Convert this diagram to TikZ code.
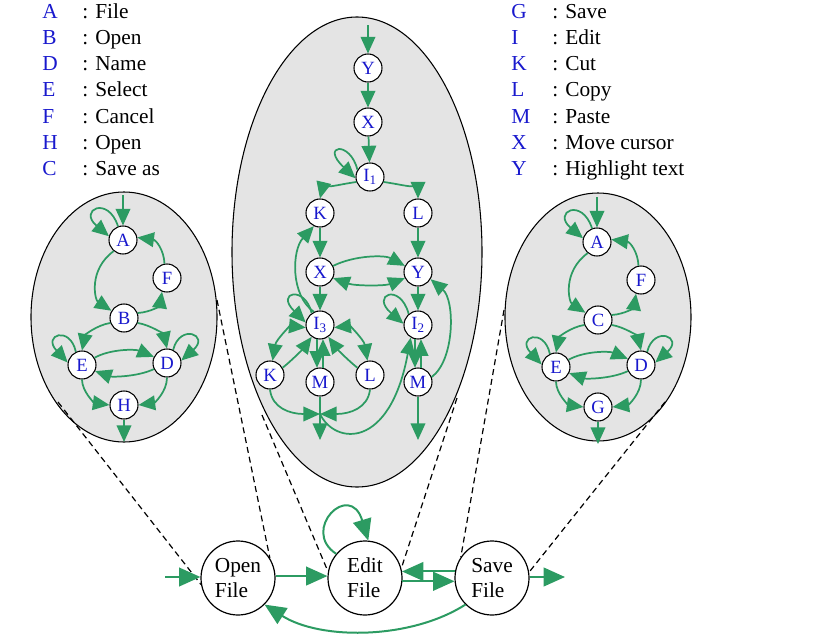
\documentclass[tikz,border=0pt]{standalone}
\usepackage{fontspec}
\setmainfont{Liberation Serif}
\usetikzlibrary{arrows.meta}
\definecolor{grn}{RGB}{44,155,98}
\definecolor{lbl}{RGB}{25,25,205}
\definecolor{ell}{RGB}{228,228,228}
\tikzset{
  st/.style={circle, draw=black, line width=0.8pt, fill=white, minimum size=21pt, inner sep=0pt, text=lbl, font=\fontsize{14}{14}\selectfont},
  big/.style={circle, draw=black, line width=0.9pt, fill=white, minimum size=55.5pt, inner sep=0pt, align=left, font=\fontsize{16}{19}\selectfont},
  ar/.style={draw=grn, line width=1.3pt, -{Triangle[length=12.5pt,width=11pt]}},
  dar/.style={draw=grn, line width=1.3pt, {Triangle[length=12.5pt,width=11pt]}-{Triangle[length=12.5pt,width=11pt]}},
  bar/.style={draw=grn, line width=1.5pt, -{Triangle[length=16pt,width=14pt]}},
  ellb/.style={draw=black, line width=0.8pt, fill=ell},
  dsh/.style={draw=black, line width=0.9pt, dash pattern=on 4.5pt off 3pt},
  leglet/.style={anchor=base west, text=lbl, inner sep=0pt, font=\fontsize{16}{18}\selectfont},
  legtxt/.style={anchor=base west, inner sep=0pt, font=\fontsize{16}{18}\selectfont},
}
\newcommand{\sidegraph}[4]{%
\begin{scope}[shift={#4}]
\node[st] (#1A) at (123,240) {A};
\node[st] (#1F) at (167,278) {F};
\node[st] (#1B) at (124,318) {#2};
\node[st] (#1E) at (82,365) {E};
\node[st] (#1D) at (167,363) {D};
\node[st] (#1H) at (124,405) {#3};
\coordinate (#1in) at (123,195);
\coordinate (#1out) at (124,442);
\draw[ar] (#1in) -- (#1A);
\draw[ar] (#1A.110) .. controls (108,195) and (78,210) .. (#1A.165);
\draw[ar] (#1A.230) .. controls (88,270) and (95,300) .. (#1B.150);
\draw[ar] (#1F.100) .. controls (164,250) and (156,240) .. (#1A.10);
\draw[ar] (#1B.20) .. controls (152,312) and (160,305) .. (#1F.250);
\draw[ar] (#1B.200) .. controls (97,325) and (85,335) .. (#1E.90);
\draw[ar] (#1B.340) .. controls (151,325) and (164,335) .. (#1D.90);
\draw[ar] (#1E.30) .. controls (110,349) and (135,349) .. (#1D.155);
\draw[ar] (#1D.205) .. controls (137,377) and (112,377) .. (#1E.335);
\draw[ar] (#1E.115) .. controls (70,325) and (42,335) .. (#1E.170);
\draw[ar] (#1D.65) .. controls (180,323) and (210,335) .. (#1D.10);
\draw[ar] (#1E.270) .. controls (82,392) and (95,403) .. (#1H.180);
\draw[ar] (#1D.270) .. controls (167,392) and (154,403) .. (#1H.0);
\draw[ar] (#1H) -- (#1out);
\end{scope}}
\begin{document}
\begin{tikzpicture}[x=0.75pt,y=-0.75pt]
\useasboundingbox (0,0) rectangle (819,636);
% legends
\foreach \l/\t/\y [count=\i] in {A/File/18, B/Open/44.3, D/Name/70.6, E/Select/96.9, F/Cancel/123.2, H/Open/149.5, C/Save as/175.8}{
  \node[leglet] (ll\i) at (42,\y) {\l};
  \node[legtxt] (lt\i) at (82,\y) {: \t};
}
\foreach \l/\t/\y [count=\i] in {G/Save/18, I/Edit/44.3, K/Cut/70.6, L/Copy/96.9, M/Paste/123.2, X/Move cursor/149.5, Y/Highlight text/175.8}{
  \node[leglet] (rl\i) at (511,\y) {\l};
  \node[legtxt] (rt\i) at (552,\y) {: \t};
}
% ellipses
\path[ellb] (124,317) ellipse [x radius=93, y radius=125];
\path[ellb] (598,317) ellipse [x radius=93, y radius=124];
\path[ellb] (357,252) ellipse [x radius=125, y radius=235];
% bottom nodes
\node[big] (open) at (238,578) {Open\\File};
\node[big] (edit) at (365,578) {Edit\\File};
\node[big] (save) at (492,578) {Save\\File};
% dashed connectors
\coordinate (e1) at (58,402);
\coordinate (e2) at (217,300);
\coordinate (e3) at (262,415);
\coordinate (e4) at (457,398);
\coordinate (e5) at (504,310);
\coordinate (e6) at (665,402);
\draw[dsh] (e1) -- (open.190);
\draw[dsh] (e2) -- (open.32);
\draw[dsh] (e3) -- (edit.170);
\draw[dsh] (e4) -- (edit.15);
\draw[dsh] (e5) -- (save.146);
\draw[dsh] (e6) -- (save.9);
% side graphs
\sidegraph{l}{B}{H}{(0,0)}
\sidegraph{r}{C}{G}{(474,2)}
% middle graph
\node[st] (Y1) at (368,68) {Y};
\node[st] (X1) at (368,122) {X};
\node[st] (I1) at (370,177) {I\textsubscript{1}};
\node[st] (K1) at (320,213) {K};
\node[st] (L1) at (418,213) {L};
\node[st] (X2) at (320,272) {X};
\node[st] (Y2) at (418,272) {Y};
\node[st] (I3) at (320,325) {I\textsubscript{3}};
\node[st] (I2) at (418,325) {I\textsubscript{2}};
\node[st] (K2) at (270,375) {K};
\node[st] (M2) at (320,382) {M};
\node[st] (L2) at (370,375) {L};
\node[st] (M3) at (418,382) {M};
\coordinate (min) at (368,25);
\coordinate (mrg) at (320,414);
\coordinate (mo1) at (320,440);
\coordinate (mo2) at (418,440);
\draw[ar] (min) -- (Y1);
\draw[ar] (Y1) -- (X1);
\draw[ar] (X1) -- (I1);
\draw[ar] (I1.150) .. controls (350,140) and (320,145) .. (I1.185);
\draw[ar] (I1.200) .. controls (335,185) and (322,190) .. (K1.north);
\draw[ar] (I1.340) .. controls (405,185) and (418,190) .. (L1.north);
\draw[ar] (K1) -- (X2);
\draw[ar] (L1) -- (Y2);
\draw[ar] (X2.25) .. controls (355,255) and (385,255) .. (Y2.155);
\draw[dar] (X2.335) .. controls (355,286) and (385,286) .. (Y2.205);
\draw[ar] (X2) -- (I3);
\draw[ar] (I3.115) .. controls (290,295) and (292,250) .. (K1.245);
\draw[ar] (I3.125) .. controls (305,285) and (275,292) .. (I3.170);
\draw[dar] (I3.190) .. controls (290,326) and (276,340) .. (K2.80);
\draw[ar] (K2.30) .. controls (290,362) and (302,350) .. (I3.235);
\draw[dar] (I3.350) .. controls (350,326) and (364,340) .. (L2.100);
\draw[ar] (L2.150) .. controls (350,362) and (338,350) .. (I3.305);
\draw[ar] (I3.258) -- (M2.102);
\draw[ar] (M2.78) -- (I3.282);
\draw[ar] (Y2) -- (I2);
\draw[ar] (I2.130) .. controls (400,282) and (370,295) .. (I2.175);
\draw[ar] (I2.258) -- (M3.102);
\draw[ar] (M3.78) -- (I2.282);
\draw[ar] (M3.20) .. controls (455,360) and (455,300) .. (Y2.330);
\draw[ar] (M3) -- (mo2);
\draw[ar] (M2) -- (mo1);
\draw[ar] (K2.south) .. controls (272,408) and (290,414) .. (mrg);
\draw[ar] (L2.south) .. controls (368,408) and (350,414) .. (mrg);
\draw[ar] (mrg) .. controls (335,445) and (390,450) .. (I2.240);
% bottom connectors
\coordinate (bin) at (165,577);
\coordinate (bout) at (565,577);
\draw[bar] (bin) -- (open.west |- bin);
\draw[bar] (open.3) -- (edit.177);
\draw[bar] (save.170) -- (edit.10);
\draw[bar] (edit.355) -- (save.185);
\draw[bar] (save.east |- bout) -- (bout);
\draw[bar] (save.225) .. controls (410,640) and (320,640) .. (open.315);
\draw[bar] (edit.140) .. controls (300,530) and (350,480) .. (edit.85);
\end{tikzpicture}
\end{document}
